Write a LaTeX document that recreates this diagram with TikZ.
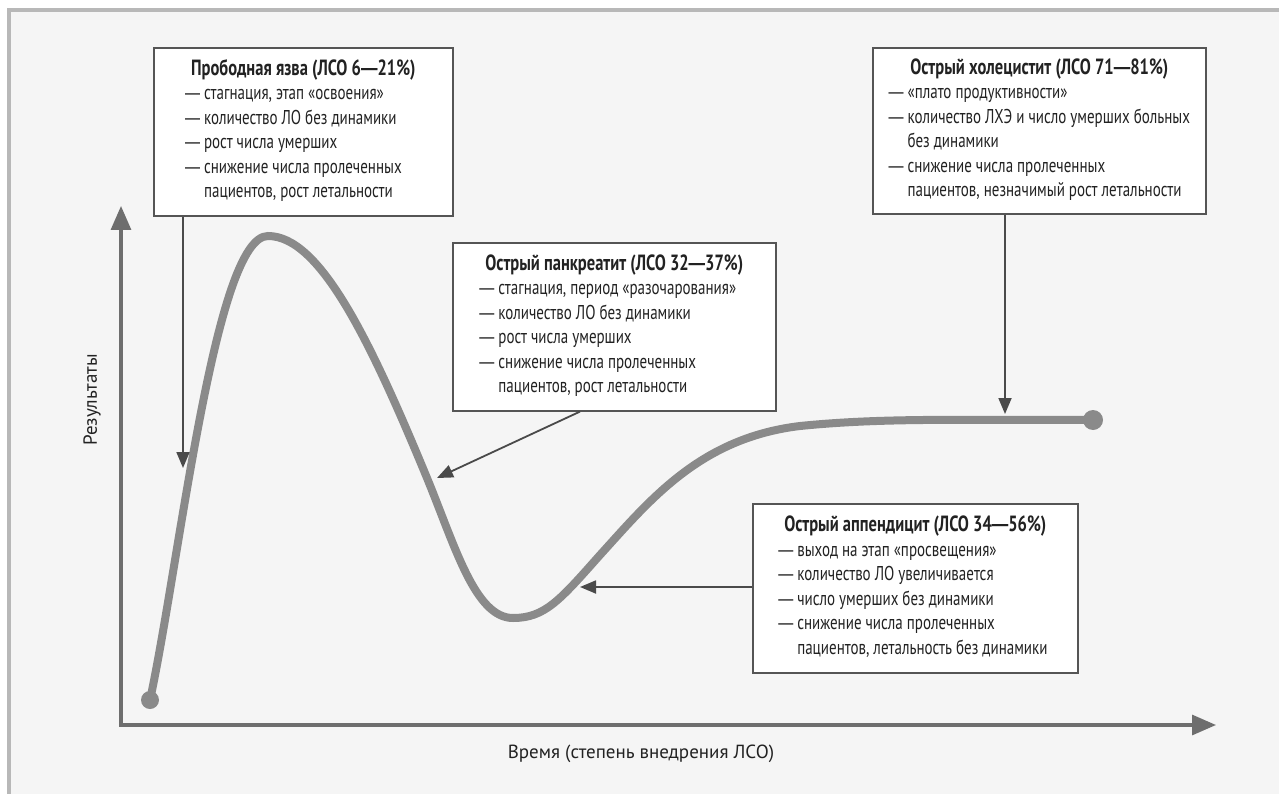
\documentclass[tikz,border=0pt]{standalone}
\usepackage{fontspec}
\setmainfont[FakeStretch=0.75]{PT Sans}
\newfontfamily\plainfont{PT Sans}
\newfontfamily\dashfont[FakeStretch=0.75]{Liberation Sans}
\newcommand\dsh{{\dashfont —}}
\usetikzlibrary{arrows.meta,calc}
\definecolor{curvegray}{HTML}{8A8A8A}
\definecolor{axisgray}{HTML}{6E6E6E}
\definecolor{boxline}{HTML}{555555}
\definecolor{arrowgray}{HTML}{4A4A4A}
\definecolor{bggray}{HTML}{F5F5F5}
\definecolor{framegray}{HTML}{B8B8B8}
\definecolor{textgray}{HTML}{222222}
\begin{document}
\begin{tikzpicture}[x=1pt,y=-1pt,
  infobox/.style={draw=boxline, line width=1.6pt, fill=white, inner sep=0pt, anchor=north west, text=textgray,
    font=\fontsize{20}{24.5}\selectfont},
  ptr/.style={draw=arrowgray, line width=1.8pt, -{Triangle[length=16pt,width=13pt]}},
  axisline/.style={draw=axisgray, line width=3.2pt, {Triangle[length=24pt,width=20pt]}-{Triangle[length=24pt,width=20pt]}},
  curveline/.style={draw=curvegray, line width=8pt, line cap=round},
  enddot/.style={circle, fill=curvegray, inner sep=0pt},
  axislabel/.style={text=textgray, font=\plainfont\fontsize{19}{22}\selectfont}]
\useasboundingbox (0,0) rectangle (1279,794);
\clip (0,0) rectangle (1279,794);
\fill[bggray] (9,10) rectangle (1279,794);
\draw[framegray, line width=4pt] (9,10) rectangle (1300,820);

% axes
\coordinate (origin) at (121,725);
\coordinate (ytip) at (121,206);
\coordinate (xtip) at (1216,725);
\draw[axisline] (ytip) -- (origin) -- (xtip);
\node[axislabel, rotate=90] (ylab) at (92,400) {Результаты};
\node[axislabel] (xlab) at (641,754) {Время (степень внедрения ЛСО)};

% curve
\node[enddot, minimum size=18pt] (s) at (150,700) {};
\node[enddot, minimum size=20pt] (e) at (1093,420) {};
\draw[curveline] (s.center) .. controls (180,560) and (215,236) .. (268,236)
  .. controls (320,236) and (370,340) .. (427,478)
  .. controls (455,546) and (475,618) .. (513,618)
  .. controls (545,618) and (560,600) .. (600,555)
  .. controls (650,500) and (700,438) .. (800,426)
  .. controls (880,418) and (950,420) .. (e.center);

% boxes
\newcommand\hdr[1]{\multicolumn{1}{c}{\fontsize{22}{24.5}\selectfont\bfseries #1}}
\node[infobox, minimum width=299pt, minimum height=168pt] (box1) at (153,47) {%
\begin{tabular}{@{}l@{}}
\hdr{Прободная язва (ЛСО 6\dsh21\%)}\\
\dsh\ стагнация, этап «освоения»\\
\dsh\ количество ЛО без динамики\\
\dsh\ рост числа умерших\\
\dsh\ снижение числа пролеченных\\
\hphantom{\dsh\ }пациентов, рост летальности
\end{tabular}};

\node[infobox, minimum width=333pt, minimum height=166pt] (box2) at (872,47) {%
\begin{tabular}{@{}l@{}}
\hdr{Острый холецистит (ЛСО 71\dsh81\%)}\\
\dsh\ «плато продуктивности»\\
\dsh\ количество ЛХЭ и число умерших больных\\
\hphantom{\dsh\ }без динамики\\
\dsh\ снижение числа пролеченных\\
\hphantom{\dsh\ }пациентов, незначимый рост летальности
\end{tabular}};

\node[infobox, minimum width=323pt, minimum height=168pt] (box3) at (452,242) {%
\begin{tabular}{@{}l@{}}
\hdr{Острый панкреатит (ЛСО 32\dsh37\%)}\\
\dsh\ стагнация, период «разочарования»\\
\dsh\ количество ЛО без динамики\\
\dsh\ рост числа умерших\\
\dsh\ снижение числа пролеченных\\
\hphantom{\dsh\ }пациентов, рост летальности
\end{tabular}};

\node[infobox, minimum width=325pt, minimum height=169pt] (box4) at (752,503) {%
\begin{tabular}{@{}l@{}}
\hdr{Острый аппендицит (ЛСО 34\dsh56\%)}\\
\dsh\ выход на этап «просвещения»\\
\dsh\ количество ЛО увеличивается\\
\dsh\ число умерших без динамики\\
\dsh\ снижение числа пролеченных\\
\hphantom{\dsh\ }пациентов, летальность без динамики
\end{tabular}};

% pointers
\coordinate (a1tip) at (183,468);
\coordinate (a2tip) at (1005,414);
\coordinate (a3tip) at (437,478);
\coordinate (a4tip) at (580,587);
\draw[ptr] (box1.south -| a1tip) -- (a1tip);
\draw[ptr] (box2.south -| a2tip) -- (a2tip);
\draw[ptr] ($(box3.south west)+(128,0)$) -- (a3tip);
\draw[ptr] (box4.west |- a4tip) -- (a4tip);
\end{tikzpicture}
\end{document}
